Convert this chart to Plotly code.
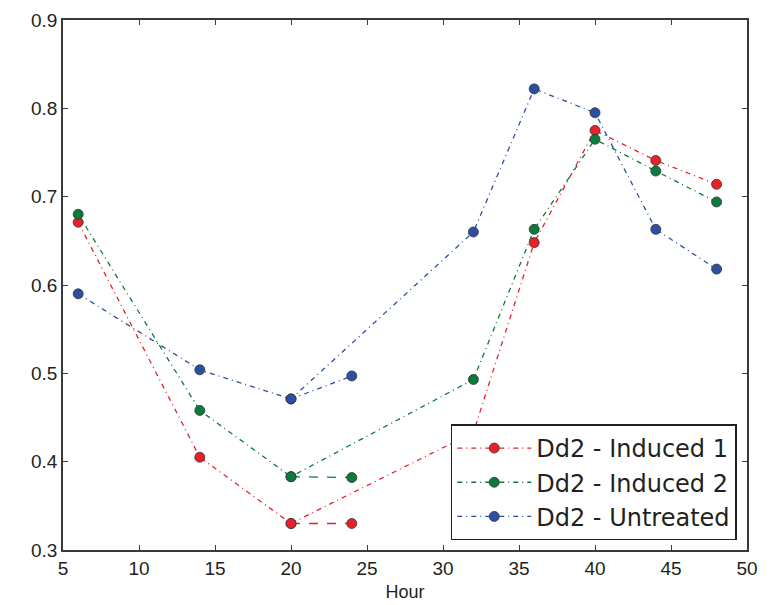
import plotly.graph_objects as go

hours = [6, 14, 20, 24, 32, 36, 40, 44, 48]
induced1 = [0.671, 0.405, 0.330, 0.330, 0.433, 0.648, 0.775, 0.741, 0.714]
induced2 = [0.680, 0.458, 0.383, 0.382, 0.493, 0.663, 0.765, 0.729, 0.694]
untreated = [0.590, 0.504, 0.471, 0.497, 0.660, 0.822, 0.795, 0.663, 0.618]

series_names = ["Dd2 - Induced 1", "Dd2 - Induced 2", "Dd2 - Untreated"]
series_values = [induced1, induced2, untreated]
colors = ["#e8202a", "#0b7a3c", "#2d4fa3"]
branch_dash = ["dash", "dash", "5px,4px,1px,4px"]

x_ticks = [5, 10, 15, 20, 25, 30, 35, 40, 45, 50]
y_ticks = [0.3, 0.4, 0.5, 0.6, 0.7, 0.8, 0.9]

FONT = "Liberation Sans, Arial, sans-serif"
LEGEND_FONT = "DejaVu Sans, sans-serif"
TXT = "#231f20"

fig = go.Figure()
main_idx = [i for i, h in enumerate(hours) if h != 24]
branch_idx = [i for i, h in enumerate(hours) if h in (20, 24)]

marker_style = lambda col: dict(size=10, color=col, line=dict(color="#333333", width=0.8))

for name, vals, col, bd in zip(series_names, series_values, colors, branch_dash):
    # branch segment 20 -> 24
    fig.add_trace(go.Scatter(
        x=[hours[i] for i in branch_idx], y=[vals[i] for i in branch_idx],
        mode="lines+markers", line=dict(color=col, width=1.3, dash=bd),
        marker=marker_style(col), showlegend=False, hoverinfo="skip"))
    # main line
    fig.add_trace(go.Scatter(
        x=[hours[i] for i in main_idx], y=[vals[i] for i in main_idx],
        name=name, mode="lines+markers",
        line=dict(color=col, width=1.3, dash="5px,4px,1px,4px"),
        marker=marker_style(col)))

axis_common = dict(
    showline=True, linecolor="#3a3a3a", linewidth=1.6, mirror="ticks",
    ticks="inside", ticklen=5, tickwidth=1, tickcolor="#3a3a3a",
    showgrid=False, zeroline=False, automargin=False,
    tickfont=dict(family=FONT, size=19, color=TXT),
)

fig.update_xaxes(range=[5, 50], tickvals=x_ticks, ticktext=[str(v) for v in x_ticks],
                 title=dict(text="Hour", font=dict(family=FONT, size=18, color=TXT), standoff=8),
                 **axis_common)
fig.update_yaxes(range=[0.3, 0.9], tickvals=y_ticks, ticktext=[f"{v:.1f}" for v in y_ticks],
                 **axis_common)

fig.update_layout(
    width=772, height=605,
    margin=dict(l=63, r=25, t=20, b=55),
    paper_bgcolor="white", plot_bgcolor="white",
    showlegend=True,
    legend=dict(x=0.985, y=0.018, xanchor="right", yanchor="bottom",
                bgcolor="white", bordercolor=TXT, borderwidth=1.5,
                tracegroupgap=0, itemwidth=74,
                font=dict(family=LEGEND_FONT, size=24, color=TXT)),
)

fig.write_html("out.html", config={"displayModeBar": False},
               post_script="document.body.style.margin='0';document.body.style.padding='0';document.body.style.overflow='hidden';")
